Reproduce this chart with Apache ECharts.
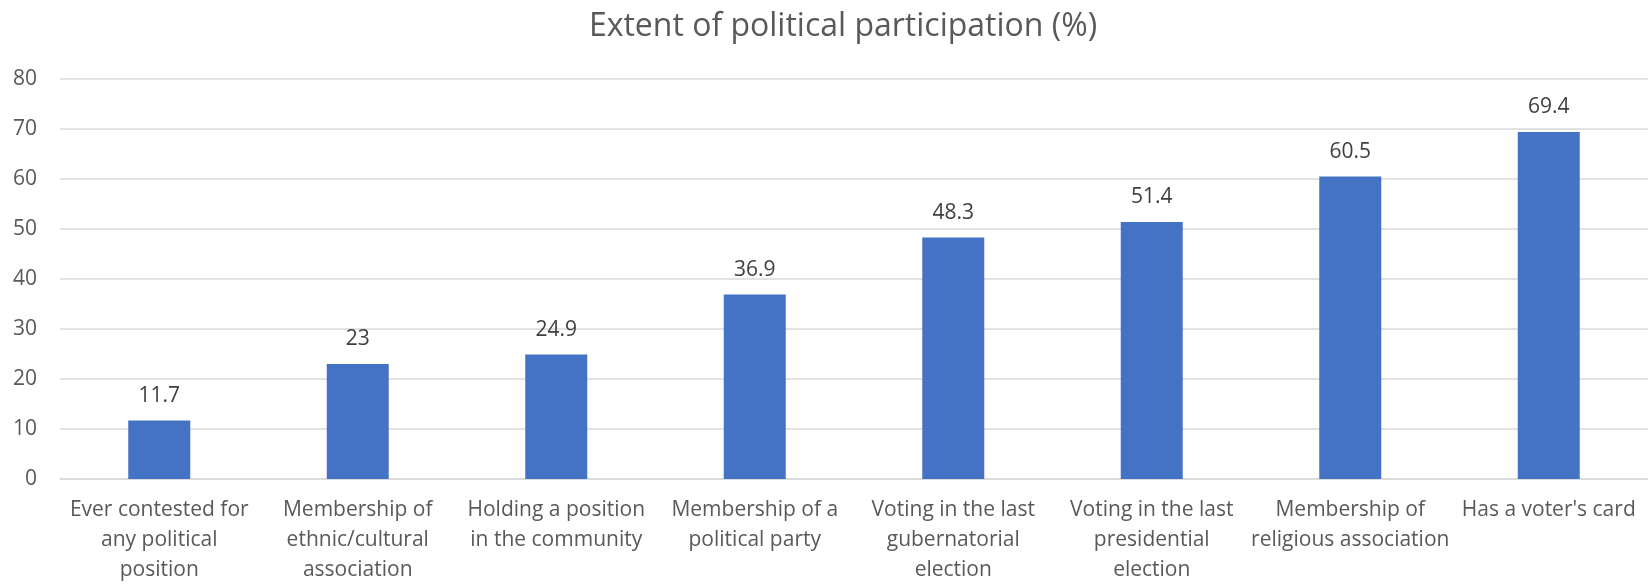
<!DOCTYPE html>
<html><head><meta charset="utf-8">
<script src="https://cdn.jsdelivr.net/npm/echarts@6/dist/echarts.min.js"></script>
<style>html,body{margin:0;padding:0;background:#fff}#c{width:1648px;height:585px}</style>
</head><body><div id="c"></div>
<script>
const categories = [
  "Ever contested for\nany political\nposition",
  "Membership of\nethnic/cultural\nassociation",
  "Holding a position\nin the community",
  "Membership of a\npolitical party",
  "Voting in the last\ngubernatorial\nelection",
  "Voting in the last\npresidential\nelection",
  "Membership of\nreligious association",
  "Has a voter's card"
];
const values = [11.7, 23, 24.9, 36.9, 48.3, 51.4, 60.5, 69.4];
const yTicks = [0, 10, 20, 30, 40, 50, 60, 70, 80];
const titleText = "Extent of political participation (%)";

const font = "'Open Sans', sans-serif";
const chart = echarts.init(document.getElementById('c'), null, {renderer: 'canvas'});
chart.setOption({
  animation: false,
  backgroundColor: '#fff',
  title: {
    text: titleText, left: 838, textAlign: 'center', top: 6,
    textStyle: {fontFamily: font, fontSize: 32, fontWeight: 'normal', color: '#595959'}
  },
  grid: {left: 60, right: -5, top: 79, bottom: 103, containLabel: false},
  xAxis: {
    type: 'category', data: categories,
    axisLine: {show: true, lineStyle: {color: '#D9D9D9', width: 1.5}},
    axisTick: {show: false},
    axisLabel: {fontFamily: font, fontSize: 21, color: '#595959', margin: 16, lineHeight: 30, interval: 0, verticalAlign: 'top'}
  },
  yAxis: {
    type: 'value', min: yTicks[0], max: yTicks[yTicks.length - 1], interval: 10,
    axisLine: {show: false}, axisTick: {show: false},
    axisLabel: {fontFamily: font, fontSize: 21, color: '#595959', margin: 23},
    splitLine: {lineStyle: {color: '#D9D9D9', width: 1.5}}
  },
  series: [{
    type: 'bar', data: values, barWidth: 62,
    itemStyle: {color: '#4472C4'},
    label: {show: true, position: 'top', distance: 14, fontFamily: font, fontSize: 21, color: '#404040'}
  }]
});
</script></body></html>
